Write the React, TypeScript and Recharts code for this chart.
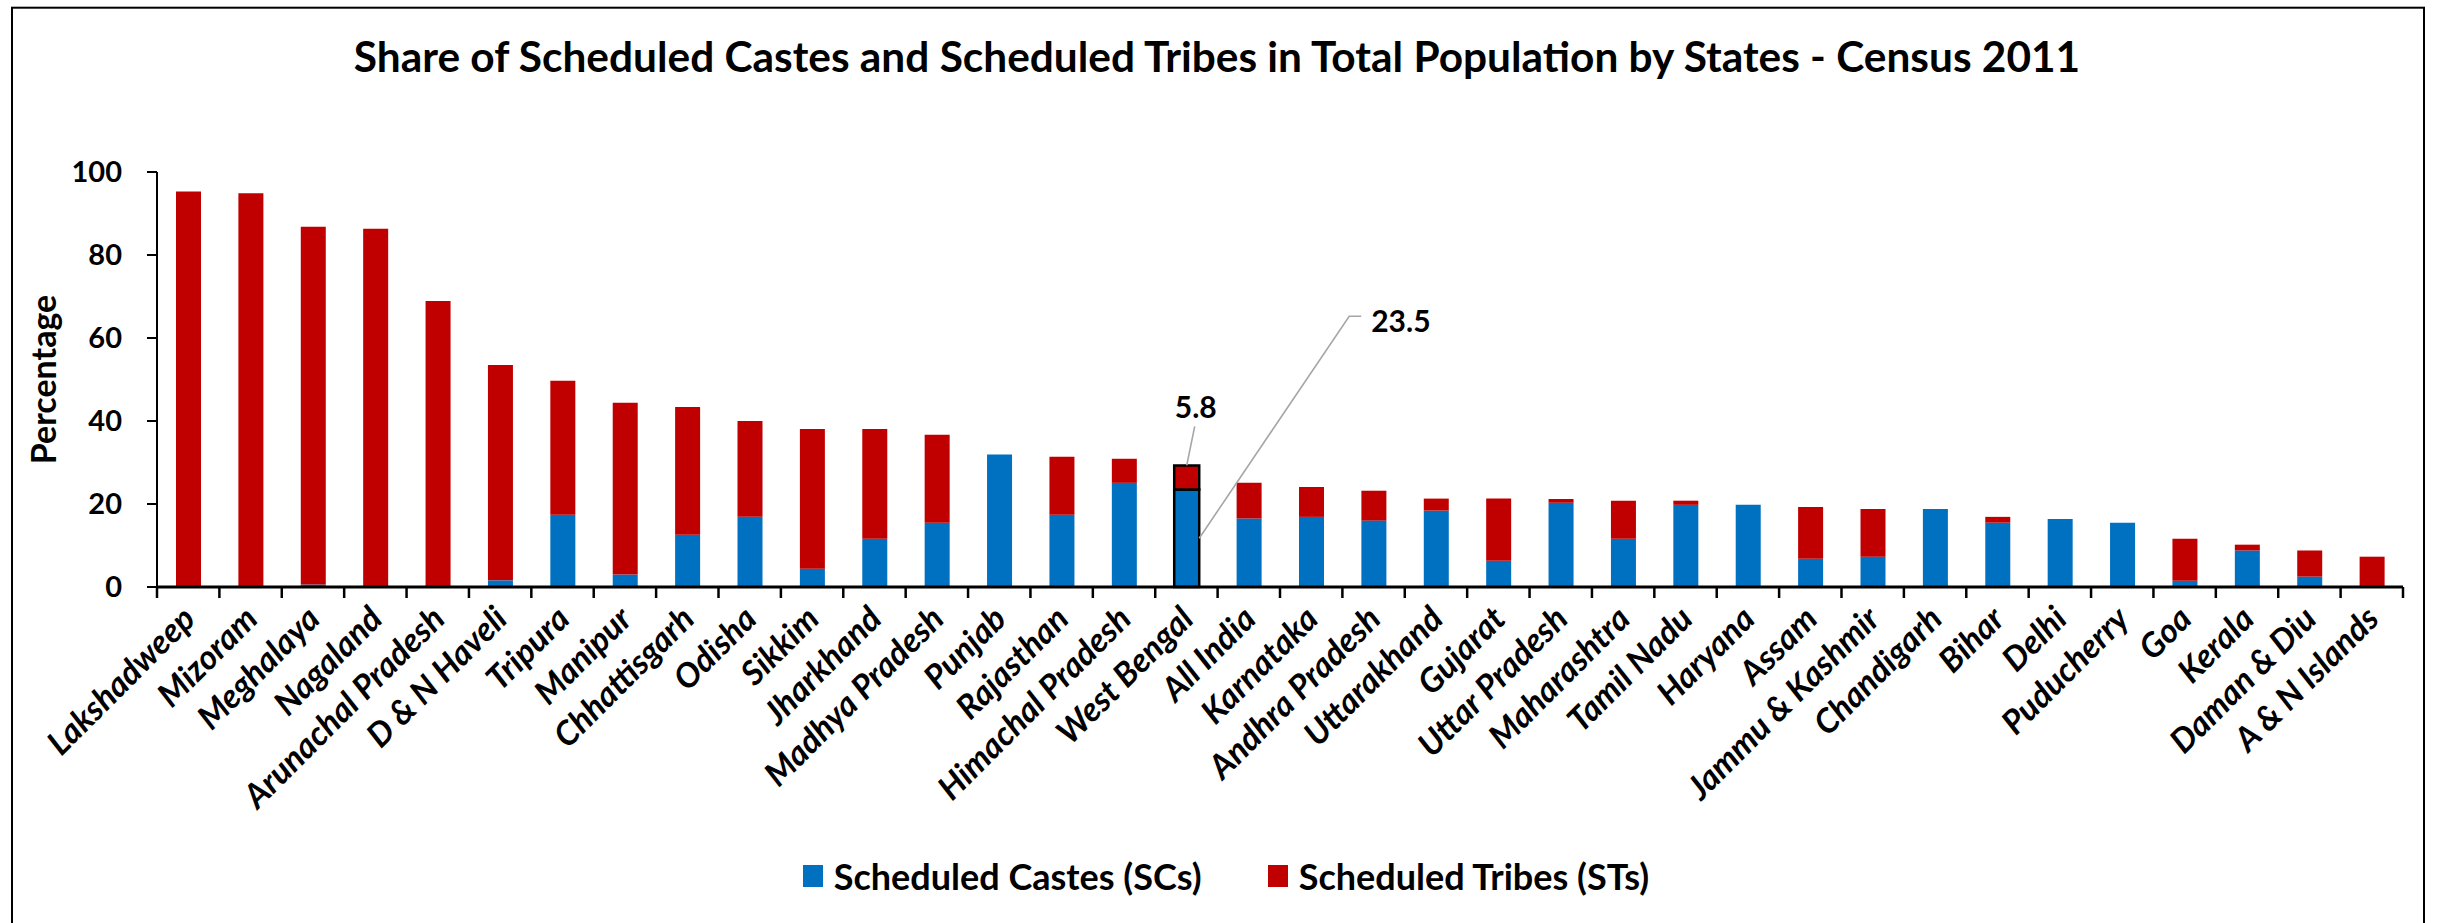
import React from 'react';
import { BarChart, Bar, XAxis, YAxis, Legend, Cell, LabelList, Label } from 'recharts';

const states = [
  'Lakshadweep', 'Mizoram', 'Meghalaya', 'Nagaland', 'Arunachal Pradesh', 'D & N Haveli',
  'Tripura', 'Manipur', 'Chhattisgarh', 'Odisha', 'Sikkim', 'Jharkhand', 'Madhya Pradesh',
  'Punjab', 'Rajasthan', 'Himachal Pradesh', 'West Bengal', 'All India', 'Karnataka',
  'Andhra Pradesh', 'Uttarakhand', 'Gujarat', 'Uttar Pradesh', 'Maharashtra', 'Tamil Nadu',
  'Haryana', 'Assam', 'Jammu & Kashmir', 'Chandigarh', 'Bihar', 'Delhi', 'Puducherry',
  'Goa', 'Kerala', 'Daman & Diu', 'A & N Islands',
];

const scValues = [
  0, 0.1, 0.6, 0, 0, 1.6,
  17.4, 3.0, 12.6, 16.9, 4.4, 11.6, 15.5,
  31.9, 17.4, 25.1, 23.5, 16.5, 16.9,
  16.0, 18.4, 6.3, 20.3, 11.6, 19.8,
  19.8, 6.8, 7.3, 18.8, 15.5, 16.4, 15.5,
  1.5, 8.8, 2.5, 0,
];

const stValues = [
  95.3, 94.8, 86.2, 86.3, 68.9, 51.9,
  32.3, 41.4, 30.8, 23.1, 33.7, 26.5, 21.2,
  0, 14.0, 5.8, 5.8, 8.6, 7.2,
  7.2, 2.9, 15.0, 0.9, 9.2, 1.0,
  0, 12.5, 11.5, 0, 1.4, 0, 0,
  10.1, 1.4, 6.3, 7.3,
];

const seriesNames = ['Scheduled Castes (SCs)', 'Scheduled Tribes (STs)'];
const yTicks = [0, 20, 40, 60, 80, 100];
const highlightState = 'West Bengal';
const titleText = 'Share of Scheduled Castes and Scheduled Tribes in Total Population by States - Census 2011';
const yAxisTitle = 'Percentage';

const data = states.map((s, i) => ({
  state: s,
  sc: scValues[i],
  st: stValues[i],
  scLabel: s === highlightState ? scValues[i] : null,
  stLabel: s === highlightState ? stValues[i] : null,
}));

const W = 2438;
const H = 923;
const FONT = 'Lato, "Open Sans", sans-serif';
const BLUE = '#0070C0';
const RED = '#C00000';
const LEADER = '#A6A6A6';

const XTick = (props: any) => {
  const { x, y, payload, index } = props;
  const half = payload && typeof payload.offset === 'number' && payload.offset > 0 ? payload.offset : 31.2;
  const isLast = index === states.length - 1;
  const ax = x + 9;
  const ay = y + 34;
  return (
    <g>
      <line x1={x - half} x2={x - half} y1={y} y2={y + 11} stroke="#000" strokeWidth={2.5} />
      {isLast && <line x1={x + half} x2={x + half} y1={y} y2={y + 11} stroke="#000" strokeWidth={2.5} />}
      <text
        x={ax}
        y={ay}
        textAnchor="end"
        transform={`rotate(-45 ${ax} ${ay})`}
        fontFamily={FONT}
        fontWeight={700}
        fontStyle="italic"
        fontSize={33.5}
        fill="#000"
      >
        {payload.value}
      </text>
    </g>
  );
};

const getBox = (props: any) => {
  const vb = props.viewBox || {};
  const x = typeof props.x === 'number' ? props.x : vb.x;
  const y = typeof props.y === 'number' ? props.y : vb.y;
  const width = typeof props.width === 'number' ? props.width : vb.width;
  const height = typeof props.height === 'number' ? props.height : vb.height;
  return { x, y, width, height };
};

const StLabel = (props: any) => {
  const { value } = props;
  if (value === null || value === undefined) return null;
  const { x, y } = getBox(props);
  return (
    <g>
      <line x1={x + 12.5} y1={y} x2={x + 20.5} y2={y - 39} stroke={LEADER} strokeWidth={1.6} />
      <text x={x + 21.5} y={y - 47} textAnchor="middle" fontFamily={FONT} fontWeight={700} fontSize={30} fill="#000">
        {value}
      </text>
    </g>
  );
};

const ScLabel = (props: any) => {
  const { value } = props;
  if (value === null || value === undefined) return null;
  const { x, y, width, height } = getBox(props);
  const sx = x + width;
  const sy = y + height / 2;
  const ex = sx + 150;
  const ey = sy - 222;
  return (
    <g>
      <polyline points={`${sx},${sy} ${ex},${ey} ${ex + 12},${ey}`} fill="none" stroke={LEADER} strokeWidth={1.6} />
      <text x={ex + 22} y={ey + 16} textAnchor="start" fontFamily={FONT} fontWeight={700} fontSize={30} fill="#000">
        {value.toFixed(1)}
      </text>
    </g>
  );
};

const LegendContent = (props: any) => {
  const payload = props.payload || [];
  return (
    <div
      style={{
        height: 60,
        display: 'flex',
        alignItems: 'center',
        justifyContent: 'center',
        paddingLeft: 14,
        fontFamily: FONT,
        fontWeight: 700,
        fontSize: 36,
        color: '#000',
      }}
    >
      {payload.map((p: any, i: number) => (
        <div key={i} style={{ display: 'flex', alignItems: 'center', marginLeft: i > 0 ? 66 : 0 }}>
          <span style={{ display: 'inline-block', width: 20, height: 22, background: p.color, marginRight: 11 }} />
          <span style={{ lineHeight: '40px' }}>{p.value}</span>
        </div>
      ))}
    </div>
  );
};

const YLabel = (props: any) => {
  const vb = props.viewBox || { x: 0, y: 172, width: 157, height: 415 };
  const cx = vb.x + 42;
  const cy = vb.y + vb.height / 2;
  return (
    <text
      x={cx}
      y={cy}
      textAnchor="middle"
      dominantBaseline="central"
      transform={`rotate(-90 ${cx} ${cy})`}
      fontFamily={FONT}
      fontWeight={700}
      fontSize={34}
      fill="#000"
    >
      {yAxisTitle}
    </text>
  );
};

export default function App() {
  return (
    <div style={{ position: 'absolute', left: 0, top: 0, width: W, height: H, overflow: 'hidden', background: '#fff' }}>
      <BarChart
        width={W}
        height={H}
        data={data}
        margin={{ top: 172, right: 35, left: 0, bottom: 17 }}
        barCategoryGap={0}
      >
        <XAxis
          dataKey="state"
          type="category"
          interval={0}
          height={259}
          tickLine={false}
          tickSize={0}
          tickMargin={0}
          axisLine={{ stroke: '#000', strokeWidth: 3 }}
          tick={<XTick />}
        />
        <YAxis
          type="number"
          domain={[0, 100]}
          ticks={yTicks}
          width={157}
          tickSize={10}
          tickMargin={25}
          axisLine={{ stroke: '#000', strokeWidth: 2 }}
          tickLine={{ stroke: '#000', strokeWidth: 2 }}
          tick={{ fill: '#000', fontSize: 29, fontWeight: 700, fontFamily: FONT }}
        >
          <Label content={<YLabel />} />
        </YAxis>
        <Legend
          verticalAlign="bottom"
          align="center"
          height={60}
          content={<LegendContent />}
          wrapperStyle={{ left: 0, width: W }}
        />
        <Bar dataKey="sc" name={seriesNames[0]} stackId="a" fill={BLUE} barSize={25} isAnimationActive={false}>
          {data.map((d, i) => (
            <Cell
              key={`sc-${i}`}
              fill={BLUE}
              stroke={d.state === highlightState ? '#000' : 'none'}
              strokeWidth={d.state === highlightState ? 2.5 : 0}
            />
          ))}
          <LabelList dataKey="scLabel" content={<ScLabel />} />
        </Bar>
        <Bar dataKey="st" name={seriesNames[1]} stackId="a" fill={RED} barSize={25} isAnimationActive={false}>
          {data.map((d, i) => (
            <Cell
              key={`st-${i}`}
              fill={RED}
              stroke={d.state === highlightState ? '#000' : 'none'}
              strokeWidth={d.state === highlightState ? 2.5 : 0}
            />
          ))}
          <LabelList dataKey="stLabel" content={<StLabel />} />
        </Bar>
      </BarChart>
      <svg
        width={W}
        height={H}
        style={{ position: 'absolute', left: 0, top: 0, pointerEvents: 'none' }}
      >
        <rect x={12} y={7.7} width={2412} height={1000} fill="none" stroke="#000" strokeWidth={2} />
        <text x={1217} y={71.7} textAnchor="middle" fontFamily={FONT} fontWeight={700} fontSize={42.4} fill="#000">
          {titleText}
        </text>
      </svg>
    </div>
  );
}
